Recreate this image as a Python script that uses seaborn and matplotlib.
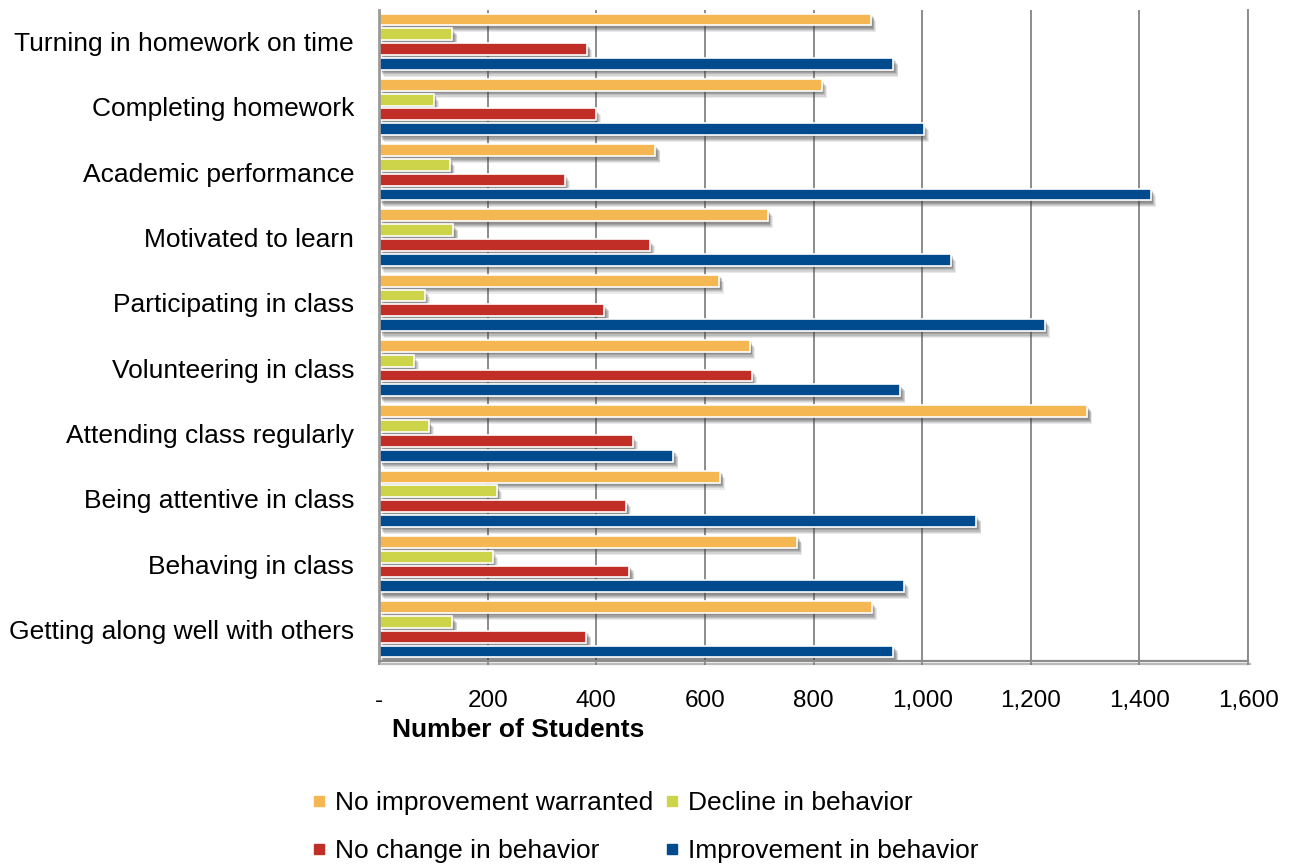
import numpy as np
import pandas as pd
import seaborn as sns
import matplotlib
matplotlib.use("Agg")
import matplotlib.pyplot as plt
import matplotlib.patheffects as pe
from matplotlib.lines import Line2D
from matplotlib.ticker import FixedLocator, FuncFormatter

categories = [
    "Turning in homework on time",
    "Completing homework",
    "Academic performance",
    "Motivated to learn",
    "Participating in class",
    "Volunteering in class",
    "Attending class regularly",
    "Being attentive in class",
    "Behaving in class",
    "Getting along well with others",
]
series_names = [
    "No improvement warranted",
    "Decline in behavior",
    "No change in behavior",
    "Improvement in behavior",
]
no_improvement = [906, 815, 509, 716, 626, 683, 1304, 628, 770, 907]
decline = [135, 101, 131, 137, 84, 64, 92, 217, 209, 135]
no_change = [383, 399, 342, 498, 415, 686, 467, 455, 461, 382]
improvement = [947, 1003, 1421, 1053, 1226, 960, 542, 1100, 966, 947]
x_ticks = [0, 200, 400, 600, 800, 1000, 1200, 1400, 1600]

colors = ["#F4B752", "#CDD44A", "#C12E28", "#004A8E"]

rows = []
for name, vals in zip(series_names, [no_improvement, decline, no_change, improvement]):
    for cat, v in zip(categories, vals):
        rows.append({"Category": cat, "Outcome": name, "Students": v})
df = pd.DataFrame(rows)

sns.set_theme(style="white")
plt.rcParams["font.family"] = ["Liberation Sans", "DejaVu Sans"]
plt.rcParams["text.color"] = "black"

fig = plt.figure(figsize=(12.94, 8.65), dpi=100)
ax = fig.add_axes([0.2929, 0.2358, 0.6716, 0.7526])

sns.barplot(
    data=df, y="Category", x="Students", hue="Outcome",
    order=categories, hue_order=series_names, palette=colors, saturation=1,
    orient="h", width=0.906, gap=0.2, errorbar=None,
    edgecolor="white", linewidth=1.2, legend=False, ax=ax,
)

# soft drop shadow built from a few stacked translucent offsets
shadow = [pe.SimplePatchShadow(offset=(o, -o * 1.4), shadow_rgbFace="#3a3a3a", alpha=a)
          for o, a in [(3.6, 0.10), (3.0, 0.13), (2.4, 0.16), (1.8, 0.18), (1.2, 0.18)]]
shadow.append(pe.Normal())
for p in ax.patches:
    p.set_path_effects(shadow)

ax.set_xlim(0, 1600)
ax.set_ylim(9.485, -0.485)
ax.xaxis.set_major_locator(FixedLocator(x_ticks))
ax.xaxis.set_major_formatter(FuncFormatter(lambda v, _: "-" if v == 0 else f"{int(v):,}"))
ax.set_axisbelow(True)
ax.grid(axis="x", color="#8c8c8c", linewidth=1.4)
ax.grid(axis="y", visible=False)

ax.spines["top"].set_visible(False)
ax.spines["left"].set_color("#9a9a9a")
ax.spines["left"].set_linewidth(2)
ax.spines["right"].set_color("#8c8c8c")
ax.spines["right"].set_linewidth(1.4)
ax.spines["bottom"].set_color("#8c8c8c")
ax.spines["bottom"].set_linewidth(1.6)
ax.spines["bottom"].set_path_effects(
    [pe.SimpleLineShadow(offset=(1.5, -2), shadow_color="#777777", alpha=0.5), pe.Normal()])

ax.tick_params(axis="x", labelsize=17.5, pad=18, length=3, color="#8c8c8c", direction="out",
               bottom=True, labelcolor="black")
ax.tick_params(axis="y", labelsize=19, pad=18, length=0, labelcolor="black")

ax.set_ylabel("")
ax.set_xlabel("Number of Students", fontsize=19, fontweight="bold", color="black")
ax.xaxis.label.set_va("center")
ax.xaxis.set_label_coords(0.16, -0.106)

# legend laid out as two rows of two
leg_order = [0, 2, 1, 3]
handles = [Line2D([], [], linestyle="none", marker="s", markersize=7.5,
                  markerfacecolor=colors[i], markeredgecolor=colors[i]) for i in leg_order]
labels = [series_names[i] for i in leg_order]
fig.legend(handles, labels, loc="center", bbox_to_anchor=(0.4988, 1 - 827 / 865),
           ncol=2, frameon=False, fontsize=19, handlelength=0.5, handletextpad=0.35,
           columnspacing=0.45, labelspacing=0.9, borderpad=0, labelcolor="black")

fig.savefig("out.png", dpi=100)
